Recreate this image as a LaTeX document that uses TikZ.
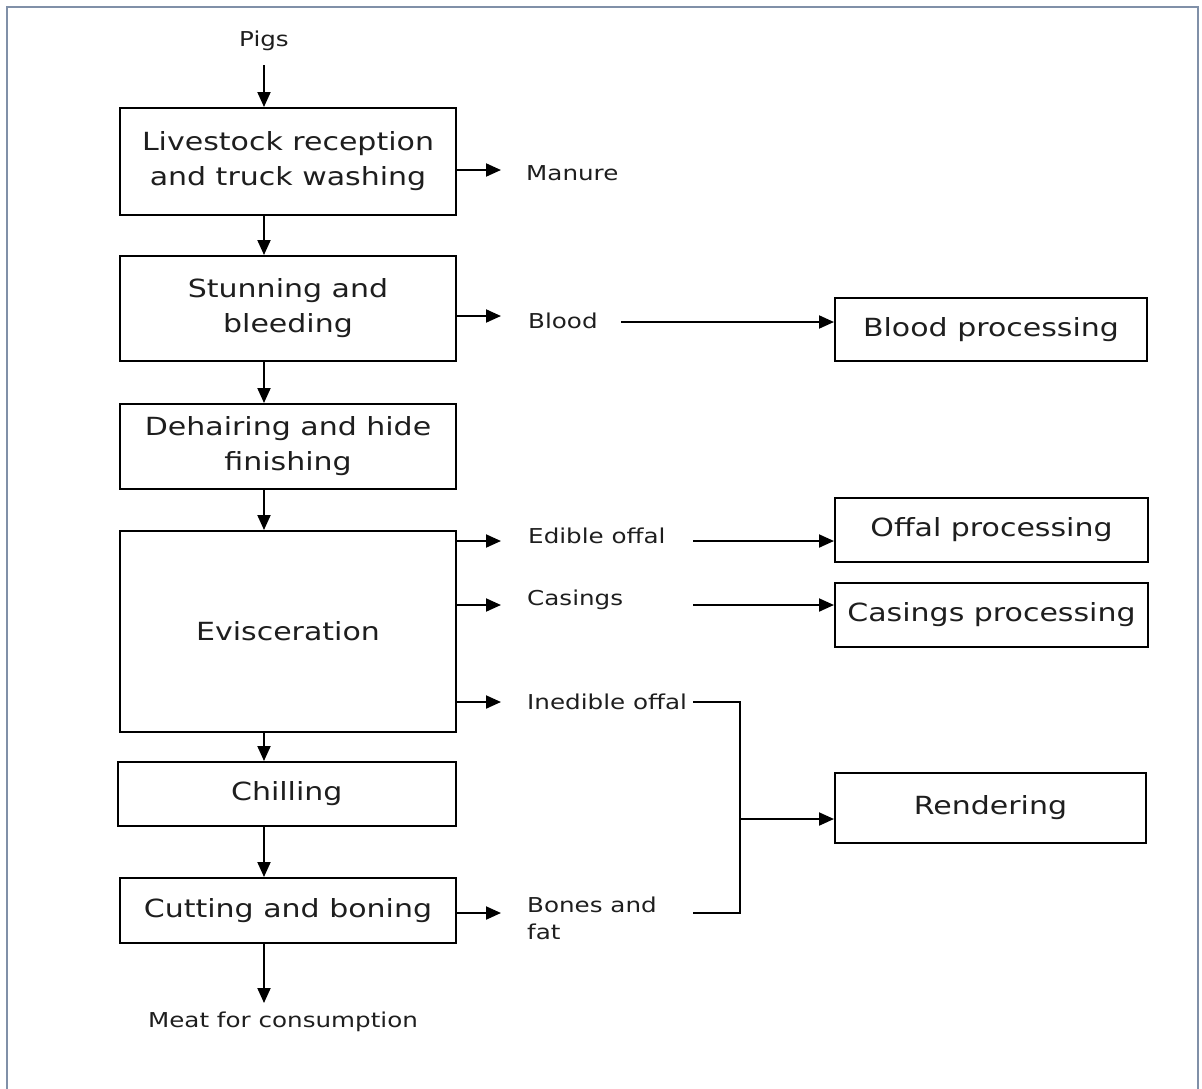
\documentclass[tikz,border=0pt]{standalone}
\usepackage{fontspec}
\setmainfont{DejaVu Sans}[FakeStretch=1.2]
\usetikzlibrary{arrows.meta}
\definecolor{framecol}{RGB}{128,144,168}
\definecolor{txt}{RGB}{30,30,30}
\tikzset{
  procbox/.style={draw=black, line width=2pt, text=txt, align=center, inner sep=0pt,
    font=\fontsize{25}{35}\selectfont},
  lbl/.style={text=txt, inner sep=0pt, align=left, font=\fontsize{20.5}{27}\selectfont},
  arr/.style={line width=2pt, -{Triangle[length=15pt,width=13pt]}},
  conn/.style={line width=2pt}
}
\begin{document}
\begin{tikzpicture}[x=1pt,y=-1pt]
\useasboundingbox (0,0) rectangle (1202,1088);
\draw[framecol, line width=1.5pt] (7,1100) -- (7,7) -- (1198,7) -- (1198,1100);

% process column
\node[procbox, minimum width=336pt, minimum height=107pt] (box1) at (288,161.5) {Livestock reception\\and truck washing};
\node[procbox, minimum width=336pt, minimum height=105pt] (box2) at (288,308.5) {Stunning and\\bleeding};
\node[procbox, minimum width=336pt, minimum height=85pt] (box3) at (288,446.5) {Dehairing and hide\\finishing};
\node[procbox, minimum width=336pt, minimum height=201pt] (box4) at (288,631.5) {Evisceration};
\node[procbox, minimum width=338.5pt, minimum height=64pt] (box5) at (286.75,794) {Chilling};
\node[procbox, minimum width=335.5pt, minimum height=65pt] (box6) at (288,910.5) {Cutting and boning};

% side boxes
\node[procbox, minimum width=312pt, minimum height=63pt] (bloodbox) at (991,329.5) {Blood processing};
\node[procbox, minimum width=313pt, minimum height=64pt] (offalbox) at (991.5,530) {Offal processing};
\node[procbox, minimum width=313pt, minimum height=64pt] (casbox) at (991.5,615) {Casings processing};
\node[procbox, minimum width=311pt, minimum height=70pt] (rendbox) at (990.5,808) {Rendering};

% labels
\node[lbl, anchor=base] (pigs) at (264,46) {Pigs};
\node[lbl, anchor=base west] (manure) at (526,180) {Manure};
\node[lbl, anchor=base west] (blood) at (528,328) {Blood};
\node[lbl, anchor=base west] (edible) at (528,543) {Edible offal};
\node[lbl, anchor=base west] (casings) at (527,605) {Casings};
\node[lbl, anchor=base west] (inedible) at (527,709) {Inedible offal};
\node[lbl, anchor=base west] (bones) at (527,939) {Bones and\\fat};
\node[lbl, anchor=base] (meat) at (283,1027) {Meat for consumption};

% coordinates
\coordinate (ax) at (264,0);
\coordinate (p0) at (264,65);
\coordinate (mt) at (264,1003);
\coordinate (m1) at (501,170);
\coordinate (b0) at (501,316);
\coordinate (e0) at (501,541);
\coordinate (c0) at (501,605);
\coordinate (i0) at (501,702);
\coordinate (n0) at (501,913);
\coordinate (b1) at (621,322);
\coordinate (e1) at (693,541);
\coordinate (c1) at (693,605);
\coordinate (i1) at (693,702);
\coordinate (j1) at (740,702);
\coordinate (j2) at (740,913);
\coordinate (n1) at (693,913);
\coordinate (j3) at (740,819);

% main flow
\draw[arr] (p0) -- (box1.north -| ax);
\draw[arr] (box1.south -| ax) -- (box2.north -| ax);
\draw[arr] (box2.south -| ax) -- (box3.north -| ax);
\draw[arr] (box3.south -| ax) -- (box4.north -| ax);
\draw[arr] (box4.south -| ax) -- (box5.north -| ax);
\draw[arr] (box5.south -| ax) -- (box6.north -| ax);
\draw[arr] (box6.south -| ax) -- (mt);

% side outputs
\draw[arr] (box1.east |- m1) -- (m1);
\draw[arr] (box2.east |- b0) -- (b0);
\draw[arr] (box4.east |- e0) -- (e0);
\draw[arr] (box4.east |- c0) -- (c0);
\draw[arr] (box4.east |- i0) -- (i0);
\draw[arr] (box6.east |- n0) -- (n0);

% to processing
\draw[arr] (b1) -- (b1 -| bloodbox.west);
\draw[arr] (e1) -- (e1 -| offalbox.west);
\draw[arr] (c1) -- (c1 -| casbox.west);
\draw[conn] (i1) -- (j1) -- (j2) -- (n1);
\draw[arr] (j3) -- (j3 -| rendbox.west);
\end{tikzpicture}
\end{document}
